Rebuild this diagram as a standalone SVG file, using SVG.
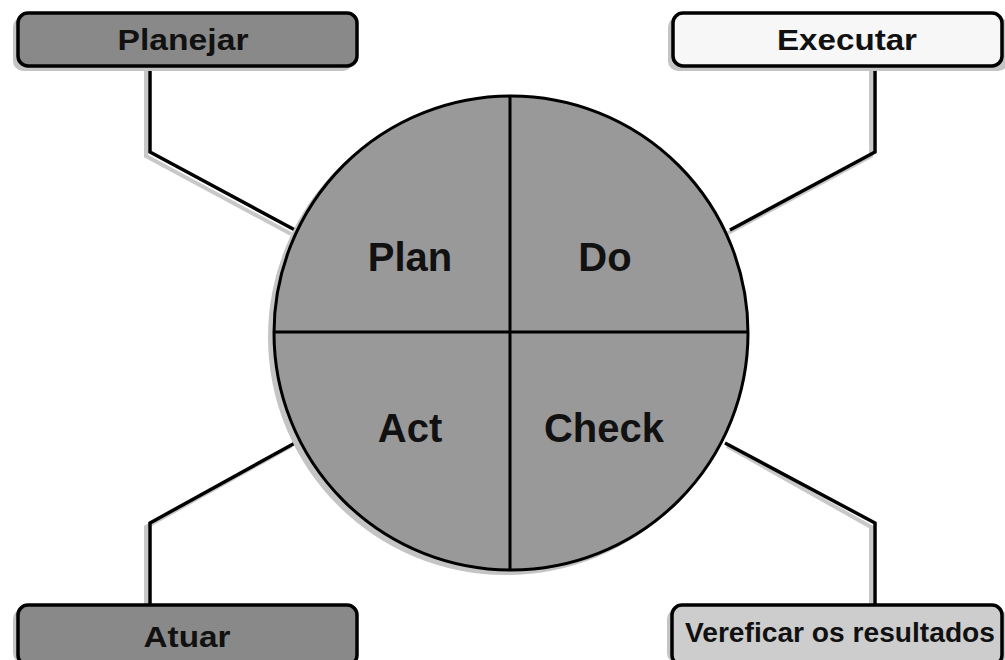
<svg xmlns="http://www.w3.org/2000/svg" width="1005" height="660" viewBox="0 0 1005 660">
<style>
.box{stroke:#000;stroke-width:3.5}
.shadow{fill:#c4c4c4}
.lbl{font-family:"Liberation Sans",Arial,sans-serif;font-weight:bold;font-size:30px;fill:#111;text-anchor:middle}
.big{font-family:"Liberation Sans",Arial,sans-serif;font-weight:bold;font-size:40px;fill:#111;text-anchor:middle}
.conn{fill:none;stroke:#000;stroke-width:3.5;stroke-linejoin:miter}
.connsh{fill:none;stroke:#c8c8c8;stroke-width:4}
</style>
<rect width="1005" height="660" fill="#fff"/>
<g id="connectors">
<polyline class="connsh" points="146,68 146,156 291,234"/>
<polyline class="connsh" points="871,68 871,156 728,233"/>
<polyline class="connsh" points="146,605 146,527 291,446"/>
<polyline class="connsh" points="871,605 871,527 727,446"/>
<polyline class="conn" points="150,66 150,152 295,230"/>
<polyline class="conn" points="875,66 875,152 730,230"/>
<polyline class="conn" points="150,606 150,523 295,443"/>
<polyline class="conn" points="875,606 875,523 725,443"/>
</g>
<g id="cycle">
<circle cx="506" cy="337" r="238" fill="#c4c4c4"/>
<circle cx="511" cy="333" r="237" fill="#999" stroke="#000" stroke-width="3"/>
<line x1="510" y1="96" x2="510" y2="570" stroke="#000" stroke-width="3"/>
<line x1="274" y1="332" x2="748" y2="332" stroke="#000" stroke-width="3"/>
<text class="big" x="410" y="271">Plan</text>
<text class="big" x="605" y="271">Do</text>
<text class="big" x="410" y="442">Act</text>
<text class="big" x="604" y="442">Check</text>
</g>
<g id="planejar">
<rect class="shadow" x="13" y="17" width="340" height="54" rx="10"/>
<rect class="box" x="18" y="13" width="339" height="53" rx="10" fill="#898989"/>
<text class="lbl" x="183" y="50" textLength="131" lengthAdjust="spacingAndGlyphs">Planejar</text>
</g>
<g id="executar">
<rect class="shadow" x="668" y="17" width="340" height="54" rx="10"/>
<rect class="box" x="673" y="13" width="329" height="53" rx="10" fill="#f7f7f7"/>
<text class="lbl" x="847" y="50" textLength="140" lengthAdjust="spacingAndGlyphs">Executar</text>
</g>
<g id="atuar">
<rect class="shadow" x="13" y="609" width="340" height="54" rx="10"/>
<rect class="box" x="18" y="605" width="339" height="60" rx="10" fill="#898989"/>
<text class="lbl" x="187" y="647" textLength="87" lengthAdjust="spacingAndGlyphs">Atuar</text>
</g>
<g id="vereficar">
<rect class="shadow" x="667" y="609" width="340" height="54" rx="10"/>
<rect class="box" x="672" y="605" width="330" height="60" rx="10" fill="#cdcdcd"/>
<text class="lbl" x="840" y="642" font-size="28" textLength="310" lengthAdjust="spacingAndGlyphs" style="font-size:28px">Vereficar os resultados</text>
</g>
</svg>
